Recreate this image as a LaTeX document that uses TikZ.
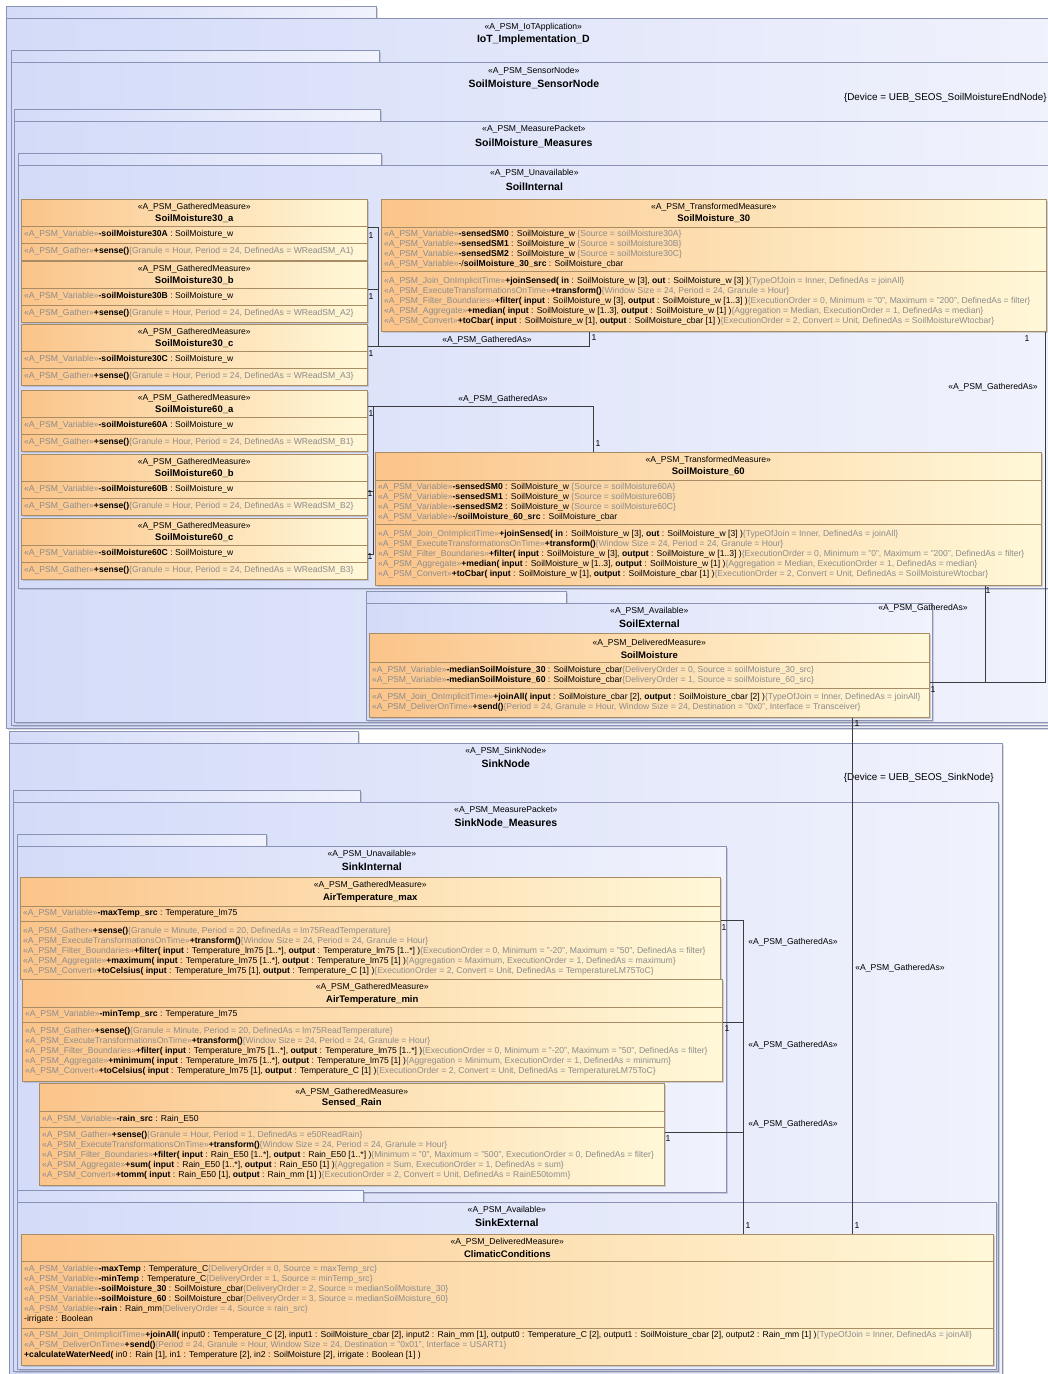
\documentclass[tikz,border=0pt]{standalone}
\usepackage{fontspec}
\setmainfont{Liberation Sans}
\usepackage{tikz}
\usetikzlibrary{positioning, shadows}

\definecolor{pkgL}{HTML}{D3DBF8}
\definecolor{pkgR}{HTML}{F0F2FC}
\definecolor{pkgB}{HTML}{8A93B5}
\definecolor{clsL}{HTML}{FBC48A}
\definecolor{clsR}{HTML}{FFF8D8}
\definecolor{clsB}{HTML}{A88C66}
\definecolor{stgray}{HTML}{8C8C8C}
\definecolor{linegray}{HTML}{3C3C3C}

% stereotypes and constraints (grey)
\newcommand{\stp}[1]{\textcolor{stgray}{«#1»}}
\newcommand{\cst}[1]{\textcolor{stgray}{\{#1\}}}
\newcommand{\smallf}{\fontsize{8.6}{10}\selectfont}
\newcommand{\namef}{\fontsize{9.5}{10}\selectfont\bfseries}
\newcommand{\pkgf}{\fontsize{10.5}{12}\selectfont\bfseries}
\newcommand{\devf}{\fontsize{9.9}{12}\selectfont}

\begin{document}
\begin{tikzpicture}[x=1pt, y=-1pt,
        % STYLES
        pkg/.style={draw=pkgB, line width=0.7pt, left color=pkgL, right color=pkgR, anchor=north west, inner sep=0pt, drop shadow={shadow xshift=1.5pt, shadow yshift=-1.5pt, opacity=0.3}},
        cls/.style={draw=clsB, line width=0.6pt, left color=clsL, right color=clsR, anchor=north west, inner sep=0pt, drop shadow={shadow xshift=1.5pt, shadow yshift=-1.5pt, opacity=0.3}},
        compline/.style={draw=clsB, line width=0.5pt},
        stereo/.style={font=\smallf, inner sep=0pt},
        clsname/.style={font=\namef, inner sep=0pt},
        pkgname/.style={font=\pkgf, inner sep=0pt},
        device/.style={font=\devf, inner sep=0pt, anchor=east},
        body/.style={font=\smallf, align=left, anchor=west, inner sep=0pt},
        mult/.style={font=\smallf, inner sep=0pt},
        % CONNECTORS
        assoc/.style={draw=linegray, line width=0.6pt}
    ]
    \useasboundingbox (0,0) rectangle (1048,1374);
    \fill[white] (0,0) rectangle (1048,1374);
    \clip (0,0) rectangle (1048,1374);

    % ===================================
    % 1. Sensor node packages
    % ===================================
    \node[pkg, minimum width=370pt, minimum height=12pt] (iot-tab) at (6,6) {};
    \node[pkg, minimum width=1054pt, minimum height=710pt] (iot) at (6,18) {};
    \node[stereo] (iot-s) at ([yshift=-9pt]iot.north) {«A\_PSM\_IoTApplication»};
    \node[pkgname] (iot-n) at ([yshift=-22pt]iot.north) {IoT\_Implementation\_D};

    \node[pkg, minimum width=368pt, minimum height=12pt] (sn-tab) at (11,50) {};
    \node[pkg, minimum width=1045pt, minimum height=663pt] (sn) at (11,62) {};
    \node[stereo] (sn-s) at ([yshift=-9pt]sn.north) {«A\_PSM\_SensorNode»};
    \node[pkgname] (sn-n) at ([yshift=-22pt]sn.north) {SoilMoisture\_SensorNode};
    \node[device] (sn-c) at (1047,98) {\{Device = UEB\_SEOS\_SoilMoistureEndNode\}};

    \node[pkg, minimum width=366pt, minimum height=12pt] (sm-tab) at (14,109) {};
    \node[pkg, minimum width=1039pt, minimum height=601pt] (sm) at (14,121) {};
    \node[stereo] (sm-s) at ([yshift=-8pt]sm.north) {«A\_PSM\_MeasurePacket»};
    \node[pkgname] (sm-n) at ([yshift=-22pt]sm.north) {SoilMoisture\_Measures};

    \node[pkg, minimum width=363pt, minimum height=12pt] (si-tab) at (18,153) {};
    \node[pkg, minimum width=1032pt, minimum height=423pt] (si) at (18,165) {};
    \node[stereo] (si-s) at ([yshift=-8pt]si.north) {«A\_PSM\_Unavailable»};
    \node[pkgname] (si-n) at ([yshift=-22pt]si.north) {SoilInternal};

    \node[pkg, minimum width=200pt, minimum height=12pt] (se-tab) at (366,591) {};
    \node[pkg, minimum width=566pt, minimum height=117pt] (se) at (366,603) {};
    \node[stereo] (se-s) at ([yshift=-8pt]se.north) {«A\_PSM\_Available»};
    \node[pkgname] (se-n) at ([yshift=-21pt]se.north) {SoilExternal};

    % --- Gathered soil measures ---
    \node[cls, minimum width=346pt, minimum height=61pt] (sm30a) at (21,199) {};
    \node[stereo] (sm30a-s) at ([yshift=-8pt]sm30a.north) {«A\_PSM\_GatheredMeasure»};
    \node[clsname] (sm30a-n) at ([yshift=-20pt]sm30a.north) {SoilMoisture30\_a};
    \draw[compline] ([yshift=-27pt]sm30a.north west) -- ([yshift=-27pt]sm30a.north east);
    \draw[compline] ([yshift=-44pt]sm30a.north west) -- ([yshift=-44pt]sm30a.north east);
    \node[body] (sm30a-a) at ([xshift=3pt,yshift=-35pt]sm30a.north west) {\stp{A\_PSM\_Variable}\textbf{-soilMoisture30A} : SoilMoisture\_w};
    \node[body] (sm30a-o) at ([xshift=3pt,yshift=-52pt]sm30a.north west) {\stp{A\_PSM\_Gather}\textbf{+sense()}\cst{Granule = Hour, Period = 24, DefinedAs = WReadSM\_A1}};

    \node[cls, minimum width=346pt, minimum height=61pt] (sm30b) at (21,261) {};
    \node[stereo] (sm30b-s) at ([yshift=-8pt]sm30b.north) {«A\_PSM\_GatheredMeasure»};
    \node[clsname] (sm30b-n) at ([yshift=-20pt]sm30b.north) {SoilMoisture30\_b};
    \draw[compline] ([yshift=-27pt]sm30b.north west) -- ([yshift=-27pt]sm30b.north east);
    \draw[compline] ([yshift=-44pt]sm30b.north west) -- ([yshift=-44pt]sm30b.north east);
    \node[body] (sm30b-a) at ([xshift=3pt,yshift=-35pt]sm30b.north west) {\stp{A\_PSM\_Variable}\textbf{-soilMoisture30B} : SoilMoisture\_w};
    \node[body] (sm30b-o) at ([xshift=3pt,yshift=-52pt]sm30b.north west) {\stp{A\_PSM\_Gather}\textbf{+sense()}\cst{Granule = Hour, Period = 24, DefinedAs = WReadSM\_A2}};

    \node[cls, minimum width=346pt, minimum height=61pt] (sm30c) at (21,324) {};
    \node[stereo] (sm30c-s) at ([yshift=-8pt]sm30c.north) {«A\_PSM\_GatheredMeasure»};
    \node[clsname] (sm30c-n) at ([yshift=-20pt]sm30c.north) {SoilMoisture30\_c};
    \draw[compline] ([yshift=-27pt]sm30c.north west) -- ([yshift=-27pt]sm30c.north east);
    \draw[compline] ([yshift=-44pt]sm30c.north west) -- ([yshift=-44pt]sm30c.north east);
    \node[body] (sm30c-a) at ([xshift=3pt,yshift=-35pt]sm30c.north west) {\stp{A\_PSM\_Variable}\textbf{-soilMoisture30C} : SoilMoisture\_w};
    \node[body] (sm30c-o) at ([xshift=3pt,yshift=-52pt]sm30c.north west) {\stp{A\_PSM\_Gather}\textbf{+sense()}\cst{Granule = Hour, Period = 24, DefinedAs = WReadSM\_A3}};

    \node[cls, minimum width=346pt, minimum height=61pt] (sm60a) at (21,390) {};
    \node[stereo] (sm60a-s) at ([yshift=-8pt]sm60a.north) {«A\_PSM\_GatheredMeasure»};
    \node[clsname] (sm60a-n) at ([yshift=-20pt]sm60a.north) {SoilMoisture60\_a};
    \draw[compline] ([yshift=-27pt]sm60a.north west) -- ([yshift=-27pt]sm60a.north east);
    \draw[compline] ([yshift=-44pt]sm60a.north west) -- ([yshift=-44pt]sm60a.north east);
    \node[body] (sm60a-a) at ([xshift=3pt,yshift=-35pt]sm60a.north west) {\stp{A\_PSM\_Variable}\textbf{-soilMoisture60A} : SoilMoisture\_w};
    \node[body] (sm60a-o) at ([xshift=3pt,yshift=-52pt]sm60a.north west) {\stp{A\_PSM\_Gather}\textbf{+sense()}\cst{Granule = Hour, Period = 24, DefinedAs = WReadSM\_B1}};

    \node[cls, minimum width=346pt, minimum height=61pt] (sm60b) at (21,454) {};
    \node[stereo] (sm60b-s) at ([yshift=-8pt]sm60b.north) {«A\_PSM\_GatheredMeasure»};
    \node[clsname] (sm60b-n) at ([yshift=-20pt]sm60b.north) {SoilMoisture60\_b};
    \draw[compline] ([yshift=-27pt]sm60b.north west) -- ([yshift=-27pt]sm60b.north east);
    \draw[compline] ([yshift=-44pt]sm60b.north west) -- ([yshift=-44pt]sm60b.north east);
    \node[body] (sm60b-a) at ([xshift=3pt,yshift=-35pt]sm60b.north west) {\stp{A\_PSM\_Variable}\textbf{-soilMoisture60B} : SoilMoisture\_w};
    \node[body] (sm60b-o) at ([xshift=3pt,yshift=-52pt]sm60b.north west) {\stp{A\_PSM\_Gather}\textbf{+sense()}\cst{Granule = Hour, Period = 24, DefinedAs = WReadSM\_B2}};

    \node[cls, minimum width=346pt, minimum height=61pt] (sm60c) at (21,518) {};
    \node[stereo] (sm60c-s) at ([yshift=-8pt]sm60c.north) {«A\_PSM\_GatheredMeasure»};
    \node[clsname] (sm60c-n) at ([yshift=-20pt]sm60c.north) {SoilMoisture60\_c};
    \draw[compline] ([yshift=-27pt]sm60c.north west) -- ([yshift=-27pt]sm60c.north east);
    \draw[compline] ([yshift=-44pt]sm60c.north west) -- ([yshift=-44pt]sm60c.north east);
    \node[body] (sm60c-a) at ([xshift=3pt,yshift=-35pt]sm60c.north west) {\stp{A\_PSM\_Variable}\textbf{-soilMoisture60C} : SoilMoisture\_w};
    \node[body] (sm60c-o) at ([xshift=3pt,yshift=-52pt]sm60c.north west) {\stp{A\_PSM\_Gather}\textbf{+sense()}\cst{Granule = Hour, Period = 24, DefinedAs = WReadSM\_B3}};

    % --- Transformed soil measures ---
    \node[cls, minimum width=665pt, minimum height=132pt] (sm30) at (381,199) {};
    \node[stereo] (sm30-s) at ([yshift=-8pt]sm30.north) {«A\_PSM\_TransformedMeasure»};
    \node[clsname] (sm30-n) at ([yshift=-20pt]sm30.north) {SoilMoisture\_30};
    \draw[compline] ([yshift=-28pt]sm30.north west) -- ([yshift=-28pt]sm30.north east);
    \draw[compline] ([yshift=-72pt]sm30.north west) -- ([yshift=-72pt]sm30.north east);
    \node[body] (sm30-a) at ([xshift=3pt,yshift=-50pt]sm30.north west) {%
        \stp{A\_PSM\_Variable}\textbf{-sensedSM0} : SoilMoisture\_w \cst{Source = soilMoisture30A}\\
        \stp{A\_PSM\_Variable}\textbf{-sensedSM1} : SoilMoisture\_w \cst{Source = soilMoisture30B}\\
        \stp{A\_PSM\_Variable}\textbf{-sensedSM2} : SoilMoisture\_w \cst{Source = soilMoisture30C}\\
        \stp{A\_PSM\_Variable}-/\textbf{soilMoisture\_30\_src} : SoilMoisture\_cbar};
    \node[body] (sm30-o) at ([xshift=3pt,yshift=-102pt]sm30.north west) {%
        \stp{A\_PSM\_Join\_OnImplicitTime}\textbf{+joinSensed(} \textbf{in} : SoilMoisture\_w [3], \textbf{out} : SoilMoisture\_w [3] )\cst{TypeOfJoin = Inner, DefinedAs = joinAll}\\
        \stp{A\_PSM\_ExecuteTransformationsOnTime}\textbf{+transform()}\cst{Window Size = 24, Period = 24, Granule = Hour}\\
        \stp{A\_PSM\_Filter\_Boundaries}\textbf{+filter(} \textbf{input} : SoilMoisture\_w [3], \textbf{output} : SoilMoisture\_w [1..3] )\cst{ExecutionOrder = 0, Minimum = "0", Maximum = "200", DefinedAs = filter}\\
        \stp{A\_PSM\_Aggregate}\textbf{+median(} \textbf{input} : SoilMoisture\_w [1..3], \textbf{output} : SoilMoisture\_w [1] )\cst{Aggregation = Median, ExecutionOrder = 1, DefinedAs = median}\\
        \stp{A\_PSM\_Convert}\textbf{+toCbar(} \textbf{input} : SoilMoisture\_w [1], \textbf{output} : SoilMoisture\_cbar [1] )\cst{ExecutionOrder = 2, Convert = Unit, DefinedAs = SoilMoistureWtocbar}};

    \node[cls, minimum width=666pt, minimum height=133pt] (sm60) at (375,452) {};
    \node[stereo] (sm60-s) at ([yshift=-8pt]sm60.north) {«A\_PSM\_TransformedMeasure»};
    \node[clsname] (sm60-n) at ([yshift=-20pt]sm60.north) {SoilMoisture\_60};
    \draw[compline] ([yshift=-28pt]sm60.north west) -- ([yshift=-28pt]sm60.north east);
    \draw[compline] ([yshift=-72pt]sm60.north west) -- ([yshift=-72pt]sm60.north east);
    \node[body] (sm60-a) at ([xshift=3pt,yshift=-50pt]sm60.north west) {%
        \stp{A\_PSM\_Variable}\textbf{-sensedSM0} : SoilMoisture\_w \cst{Source = soilMoisture60A}\\
        \stp{A\_PSM\_Variable}\textbf{-sensedSM1} : SoilMoisture\_w \cst{Source = soilMoisture60B}\\
        \stp{A\_PSM\_Variable}\textbf{-sensedSM2} : SoilMoisture\_w \cst{Source = soilMoisture60C}\\
        \stp{A\_PSM\_Variable}-/\textbf{soilMoisture\_60\_src} : SoilMoisture\_cbar};
    \node[body] (sm60-o) at ([xshift=3pt,yshift=-102pt]sm60.north west) {%
        \stp{A\_PSM\_Join\_OnImplicitTime}\textbf{+joinSensed(} \textbf{in} : SoilMoisture\_w [3], \textbf{out} : SoilMoisture\_w [3] )\cst{TypeOfJoin = Inner, DefinedAs = joinAll}\\
        \stp{A\_PSM\_ExecuteTransformationsOnTime}\textbf{+transform()}\cst{Window Size = 24, Period = 24, Granule = Hour}\\
        \stp{A\_PSM\_Filter\_Boundaries}\textbf{+filter(} \textbf{input} : SoilMoisture\_w [3], \textbf{output} : SoilMoisture\_w [1..3] )\cst{ExecutionOrder = 0, Minimum = "0", Maximum = "200", DefinedAs = filter}\\
        \stp{A\_PSM\_Aggregate}\textbf{+median(} \textbf{input} : SoilMoisture\_w [1..3], \textbf{output} : SoilMoisture\_w [1] )\cst{Aggregation = Median, ExecutionOrder = 1, DefinedAs = median}\\
        \stp{A\_PSM\_Convert}\textbf{+toCbar(} \textbf{input} : SoilMoisture\_w [1], \textbf{output} : SoilMoisture\_cbar [1] )\cst{ExecutionOrder = 2, Convert = Unit, DefinedAs = SoilMoistureWtocbar}};

    % --- Delivered soil measure ---
    \node[cls, minimum width=560pt, minimum height=84pt] (smd) at (369,633) {};
    \node[stereo] (smd-s) at ([yshift=-10pt]smd.north) {«A\_PSM\_DeliveredMeasure»};
    \node[clsname] (smd-n) at ([yshift=-22pt]smd.north) {SoilMoisture};
    \draw[compline] ([yshift=-29pt]smd.north west) -- ([yshift=-29pt]smd.north east);
    \draw[compline] ([yshift=-55pt]smd.north west) -- ([yshift=-55pt]smd.north east);
    \node[body] (smd-a) at ([xshift=3pt,yshift=-42pt]smd.north west) {%
        \stp{A\_PSM\_Variable}\textbf{-medianSoilMoisture\_30} : SoilMoisture\_cbar\cst{DeliveryOrder = 0, Source = soilMoisture\_30\_src}\\
        \stp{A\_PSM\_Variable}\textbf{-medianSoilMoisture\_60} : SoilMoisture\_cbar\cst{DeliveryOrder = 1, Source = soilMoisture\_60\_src}};
    \node[body] (smd-o) at ([xshift=3pt,yshift=-69pt]smd.north west) {%
        \stp{A\_PSM\_Join\_OnImplicitTime}\textbf{+joinAll(} \textbf{input} : SoilMoisture\_cbar [2], \textbf{output} : SoilMoisture\_cbar [2] )\cst{TypeOfJoin = Inner, DefinedAs = joinAll}\\
        \stp{A\_PSM\_DeliverOnTime}\textbf{+send()}\cst{Period = 24, Granule = Hour, Window Size = 24, Destination = "0x0", Interface = Transceiver}};

    % ===================================
    % 2. Sink node packages
    % ===================================
    \node[pkg, minimum width=349pt, minimum height=12pt] (kn-tab) at (9,731) {};
    \node[pkg, minimum width=993pt, minimum height=645pt] (kn) at (9,743) {};
    \node[stereo] (kn-s) at ([yshift=-8pt]kn.north) {«A\_PSM\_SinkNode»};
    \node[pkgname] (kn-n) at ([yshift=-21pt]kn.north) {SinkNode};
    \node[device] (kn-c) at (994,778) {\{Device = UEB\_SEOS\_SinkNode\}};

    \node[pkg, minimum width=347pt, minimum height=12pt] (km-tab) at (13,790) {};
    \node[pkg, minimum width=985pt, minimum height=569pt] (km) at (13,802) {};
    \node[stereo] (km-s) at ([yshift=-8pt]km.north) {«A\_PSM\_MeasurePacket»};
    \node[pkgname] (km-n) at ([yshift=-21pt]km.north) {SinkNode\_Measures};

    \node[pkg, minimum width=249pt, minimum height=12pt] (ki-tab) at (17,834) {};
    \node[pkg, minimum width=709pt, minimum height=346pt] (ki) at (17,846) {};
    \node[stereo] (ki-s) at ([yshift=-8pt]ki.north) {«A\_PSM\_Unavailable»};
    \node[pkgname] (ki-n) at ([yshift=-21pt]ki.north) {SinkInternal};

    \node[pkg, minimum width=346pt, minimum height=12pt] (ke-tab) at (17,1190) {};
    \node[pkg, minimum width=979pt, minimum height=167pt] (ke) at (17,1202) {};
    \node[stereo] (ke-s) at ([yshift=-8pt]ke.north) {«A\_PSM\_Available»};
    \node[pkgname] (ke-n) at ([yshift=-21pt]ke.north) {SinkExternal};

    % --- Gathered climate measures ---
    \node[cls, minimum width=700pt, minimum height=102pt] (atmax) at (20,877) {};
    \node[stereo] (atmax-s) at ([yshift=-8pt]atmax.north) {«A\_PSM\_GatheredMeasure»};
    \node[clsname] (atmax-n) at ([yshift=-21pt]atmax.north) {AirTemperature\_max};
    \draw[compline] ([yshift=-29pt]atmax.north west) -- ([yshift=-29pt]atmax.north east);
    \draw[compline] ([yshift=-44pt]atmax.north west) -- ([yshift=-44pt]atmax.north east);
    \node[body] (atmax-a) at ([xshift=3pt,yshift=-36pt]atmax.north west) {\stp{A\_PSM\_Variable}\textbf{-maxTemp\_src} : Temperature\_lm75};
    \node[body] (atmax-o) at ([xshift=3pt,yshift=-74pt]atmax.north west) {%
        \stp{A\_PSM\_Gather}\textbf{+sense()}\cst{Granule = Minute, Period = 20, DefinedAs = lm75ReadTemperature}\\
        \stp{A\_PSM\_ExecuteTransformationsOnTime}\textbf{+transform()}\cst{Window Size = 24, Period = 24, Granule = Hour}\\
        \stp{A\_PSM\_Filter\_Boundaries}\textbf{+filter(} \textbf{input} : Temperature\_lm75 [1..*], \textbf{output} : Temperature\_lm75 [1..*] )\cst{ExecutionOrder = 0, Minimum = "-20", Maximum = "50", DefinedAs = filter}\\
        \stp{A\_PSM\_Aggregate}\textbf{+maximum(} \textbf{input} : Temperature\_lm75 [1..*], \textbf{output} : Temperature\_lm75 [1] )\cst{Aggregation = Maximum, ExecutionOrder = 1, DefinedAs = maximum}\\
        \stp{A\_PSM\_Convert}\textbf{+toCelsius(} \textbf{input} : Temperature\_lm75 [1], \textbf{output} : Temperature\_C [1] )\cst{ExecutionOrder = 2, Convert = Unit, DefinedAs = TemperatureLM75ToC}};

    \node[cls, minimum width=700pt, minimum height=102pt] (atmin) at (22,979) {};
    \node[stereo] (atmin-s) at ([yshift=-8pt]atmin.north) {«A\_PSM\_GatheredMeasure»};
    \node[clsname] (atmin-n) at ([yshift=-21pt]atmin.north) {AirTemperature\_min};
    \draw[compline] ([yshift=-28pt]atmin.north west) -- ([yshift=-28pt]atmin.north east);
    \draw[compline] ([yshift=-43pt]atmin.north west) -- ([yshift=-43pt]atmin.north east);
    \node[body] (atmin-a) at ([xshift=3pt,yshift=-35pt]atmin.north west) {\stp{A\_PSM\_Variable}\textbf{-minTemp\_src} : Temperature\_lm75};
    \node[body] (atmin-o) at ([xshift=3pt,yshift=-72pt]atmin.north west) {%
        \stp{A\_PSM\_Gather}\textbf{+sense()}\cst{Granule = Minute, Period = 20, DefinedAs = lm75ReadTemperature}\\
        \stp{A\_PSM\_ExecuteTransformationsOnTime}\textbf{+transform()}\cst{Window Size = 24, Period = 24, Granule = Hour}\\
        \stp{A\_PSM\_Filter\_Boundaries}\textbf{+filter(} \textbf{input} : Temperature\_lm75 [1..*], \textbf{output} : Temperature\_lm75 [1..*] )\cst{ExecutionOrder = 0, Minimum = "-20", Maximum = "50", DefinedAs = filter}\\
        \stp{A\_PSM\_Aggregate}\textbf{+minimum(} \textbf{input} : Temperature\_lm75 [1..*], \textbf{output} : Temperature\_lm75 [1] )\cst{Aggregation = Minimum, ExecutionOrder = 1, DefinedAs = minimum}\\
        \stp{A\_PSM\_Convert}\textbf{+toCelsius(} \textbf{input} : Temperature\_lm75 [1], \textbf{output} : Temperature\_C [1] )\cst{ExecutionOrder = 2, Convert = Unit, DefinedAs = TemperatureLM75ToC}};

    \node[cls, minimum width=625pt, minimum height=102pt] (rain) at (39,1083) {};
    \node[stereo] (rain-s) at ([yshift=-9pt]rain.north) {«A\_PSM\_GatheredMeasure»};
    \node[clsname] (rain-n) at ([yshift=-20pt]rain.north) {Sensed\_Rain};
    \draw[compline] ([yshift=-28pt]rain.north west) -- ([yshift=-28pt]rain.north east);
    \draw[compline] ([yshift=-44pt]rain.north west) -- ([yshift=-44pt]rain.north east);
    \node[body] (rain-a) at ([xshift=3pt,yshift=-36pt]rain.north west) {\stp{A\_PSM\_Variable}\textbf{-rain\_src} : Rain\_E50};
    \node[body] (rain-o) at ([xshift=3pt,yshift=-72pt]rain.north west) {%
        \stp{A\_PSM\_Gather}\textbf{+sense()}\cst{Granule = Hour, Period = 1, DefinedAs = e50ReadRain}\\
        \stp{A\_PSM\_ExecuteTransformationsOnTime}\textbf{+transform()}\cst{Window Size = 24, Period = 24, Granule = Hour}\\
        \stp{A\_PSM\_Filter\_Boundaries}\textbf{+filter(} \textbf{input} : Rain\_E50 [1..*], \textbf{output} : Rain\_E50 [1..*] )\cst{Minimum = "0", Maximum = "500", ExecutionOrder = 0, DefinedAs = filter}\\
        \stp{A\_PSM\_Aggregate}\textbf{+sum(} \textbf{input} : Rain\_E50 [1..*], \textbf{output} : Rain\_E50 [1] )\cst{Aggregation = Sum, ExecutionOrder = 1, DefinedAs = sum}\\
        \stp{A\_PSM\_Convert}\textbf{+tomm(} \textbf{input} : Rain\_E50 [1], \textbf{output} : Rain\_mm [1] )\cst{ExecutionOrder = 2, Convert = Unit, DefinedAs = RainE50tomm}};

    % --- Delivered climate measure ---
    \node[cls, minimum width=972pt, minimum height=131pt] (cc) at (21,1234) {};
    \node[stereo] (cc-s) at ([yshift=-8pt]cc.north) {«A\_PSM\_DeliveredMeasure»};
    \node[clsname] (cc-n) at ([yshift=-20pt]cc.north) {ClimaticConditions};
    \draw[compline] ([yshift=-27pt]cc.north west) -- ([yshift=-27pt]cc.north east);
    \draw[compline] ([yshift=-94pt]cc.north west) -- ([yshift=-94pt]cc.north east);
    \node[body] (cc-a) at ([xshift=3pt,yshift=-60pt]cc.north west) {%
        \stp{A\_PSM\_Variable}\textbf{-maxTemp} : Temperature\_C\cst{DeliveryOrder = 0, Source = maxTemp\_src}\\
        \stp{A\_PSM\_Variable}\textbf{-minTemp} : Temperature\_C\cst{DeliveryOrder = 1, Source = minTemp\_src}\\
        \stp{A\_PSM\_Variable}\textbf{-soilMoisture\_30} : SoilMoisture\_cbar\cst{DeliveryOrder = 2, Source = medianSoilMoisture\_30}\\
        \stp{A\_PSM\_Variable}\textbf{-soilMoisture\_60} : SoilMoisture\_cbar\cst{DeliveryOrder = 3, Source = medianSoilMoisture\_60}\\
        \stp{A\_PSM\_Variable}\textbf{-rain} : Rain\_mm\cst{DeliveryOrder = 4, Source = rain\_src}\\
        -irrigate : Boolean};
    \node[body] (cc-o) at ([xshift=3pt,yshift=-111pt]cc.north west) {%
        \stp{A\_PSM\_Join\_OnImplicitTime}\textbf{+joinAll(} input0 : Temperature\_C [2], input1 : SoilMoisture\_cbar [2], input2 : Rain\_mm [1], output0 : Temperature\_C [2], output1 : SoilMoisture\_cbar [2], output2 : Rain\_mm [1] )\cst{TypeOfJoin = Inner, DefinedAs = joinAll}\\
        \stp{A\_PSM\_DeliverOnTime}\textbf{+send()}\cst{Period = 24, Granule = Hour, Window Size = 24, Destination = "0x01", Interface = USART1}\\
        \textbf{+calculateWaterNeed(} in0 : Rain [1], in1 : Temperature [2], in2 : SoilMoisture [2], irrigate : Boolean [1] )};

    % ===================================
    % 3. GatheredAs associations
    % ===================================
    \coordinate (g30) at (378,346);
    \draw[assoc] (sm30a.east |- 0,227) -| (g30);
    \draw[assoc] (sm30b.east |- 0,289) -| (g30);
    \draw[assoc] (sm30c.east |- g30) -| (sm30.south -| 589,0);
    \node[mult] (m30a) at (371,236) {1};
    \node[mult] (m30b) at (371,297) {1};
    \node[mult] (m30c) at (371,354) {1};
    \node[mult] (m30) at (594,338) {1};
    \node[stereo] (l30) at (487,340) {«A\_PSM\_GatheredAs»};

    \coordinate (g60) at (373,406);
    \draw[assoc] (sm60a.east |- g60) -| (sm60.north -| 593,0);
    \draw[assoc] (sm60b.east |- 0,491) -| (g60);
    \draw[assoc] (sm60c.east |- 0,554) -| (g60);
    \node[mult] (m60a) at (371,414) {1};
    \node[mult] (m60b) at (370,494) {1};
    \node[mult] (m60c) at (370,557) {1};
    \node[mult] (m60) at (598,444) {1};
    \node[stereo] (l60) at (503,399) {«A\_PSM\_GatheredAs»};

    % SoilMoisture_30 / _60 -> SoilMoisture
    \coordinate (gd) at (1045,682);
    \draw[assoc] (sm30.south -| gd) -- (gd) -- (smd.east |- gd);
    \draw[assoc] (sm60.south -| 985,0) |- (smd.east |- gd);
    \node[mult] (md30) at (1027,339) {1};
    \node[mult] (md60) at (988,591) {1};
    \node[mult] (mdd) at (933,690) {1};
    \node[stereo] (ld30) at (993,387) {«A\_PSM\_GatheredAs»};
    \node[stereo] (ld60) at (923,608) {«A\_PSM\_GatheredAs»};

    % SoilMoisture -> ClimaticConditions
    \draw[assoc] (smd.south -| 852,0) -- (cc.north -| 852,0);
    \node[mult] (msm) at (857,724) {1};
    \node[mult] (mcs) at (857,1226) {1};
    \node[stereo] (lsm) at (900,968) {«A\_PSM\_GatheredAs»};

    % Sink measures -> ClimaticConditions
    \coordinate (gat) at (743,920);
    \draw[assoc] (atmax.east |- gat) -- (gat) -- (cc.north -| gat);
    \draw[assoc] (atmin.east |- 0,1022) -| (gat);
    \draw[assoc] (rain.east |- 0,1132) -| (gat);
    \node[mult] (mmax) at (724,928) {1};
    \node[mult] (mmin) at (727,1029) {1};
    \node[mult] (mrain) at (668,1139) {1};
    \node[mult] (mcat) at (748,1226) {1};
    \node[stereo] (lmax) at (793,942) {«A\_PSM\_GatheredAs»};
    \node[stereo] (lmin) at (793,1045) {«A\_PSM\_GatheredAs»};
    \node[stereo] (lrain) at (793,1124) {«A\_PSM\_GatheredAs»};

\end{tikzpicture}
\end{document}
